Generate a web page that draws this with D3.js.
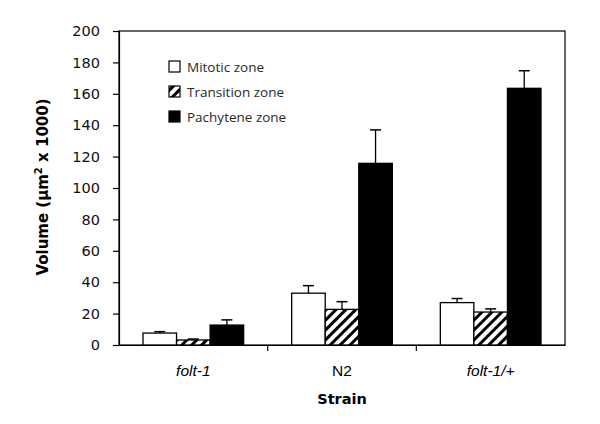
<!DOCTYPE html>
<html><head><meta charset="utf-8">
<script src="https://cdn.jsdelivr.net/npm/d3@7"></script>
<style>body{margin:0;background:#fff}</style>
</head><body><svg id="c" width="600" height="424"></svg>
<script>
const strains = ["folt-1", "N2", "folt-1/+"];
const italicStrain = [true, false, true];
const zones = ["Mitotic zone", "Transition zone", "Pachytene zone"];
const mitotic = [7.6, 33, 27];
const transition = [3.2, 22.7, 21];
const pachytene = [12.7, 115.7, 163.5];
const mitoticErr = [0.9, 4.8, 2.6];
const transitionErr = [0.6, 4.9, 2];
const pachyteneErr = [3.3, 21.3, 11.2];
const yTicks = [0,20,40,60,80,100,120,140,160,180,200];

const svg = d3.select("#c");
const L=119, R=565, T=31, B=345;
const x = d3.scaleBand().domain(strains).range([L,R]).paddingInner(0).paddingOuter(0);
const inner = d3.scaleBand().domain(zones).range([24, x.bandwidth()-24]).padding(0);
const y = d3.scaleLinear().domain([0,200]).range([B,T]);

const defs = svg.append("defs");
const pat = defs.append("pattern").attr("id","hatch").attr("patternUnits","userSpaceOnUse")
  .attr("width",7).attr("height",7).attr("patternTransform","rotate(45)");
pat.append("rect").attr("width",7).attr("height",7).attr("fill","#fff");
pat.append("rect").attr("x",0).attr("y",0).attr("width",3).attr("height",7).attr("fill","#000");

const fills = {"Mitotic zone":"#fff","Transition zone":"url(#hatch)","Pachytene zone":"#000"};
const series = [mitotic, transition, pachytene];
const errs = [mitoticErr, transitionErr, pachyteneErr];

// frame
svg.append("rect").attr("x",L).attr("y",T).attr("width",R-L).attr("height",B-T)
  .attr("fill","none").attr("stroke","#000").attr("stroke-width",1.2);

// bars
zones.forEach((z,zi)=>{
  strains.forEach((s,si)=>{
    const v = series[zi][si], e = errs[zi][si];
    const bx = x(s)+inner(z), bw = inner.bandwidth();
    const cx = bx + bw/2;
    svg.append("line").attr("x1",cx).attr("x2",cx).attr("y1",y(v)).attr("y2",y(v+e))
      .attr("stroke","#000").attr("stroke-width",1.3);
    svg.append("line").attr("x1",cx-5.5).attr("x2",cx+5.5).attr("y1",y(v+e)).attr("y2",y(v+e))
      .attr("stroke","#000").attr("stroke-width",1.5);
    svg.append("rect").attr("x",bx).attr("y",y(v)).attr("width",bw).attr("height",B-y(v))
      .attr("fill",fills[z]).attr("stroke","#000").attr("stroke-width",1.3);
  });
});

// y axis
const ya = svg.append("g").attr("transform",`translate(${L},0)`)
  .call(d3.axisLeft(y).tickValues(yTicks).tickSize(6).tickPadding(13));
ya.select(".domain").attr("stroke","#000").attr("stroke-width",1.2);
ya.selectAll(".tick line").attr("stroke","#000").attr("stroke-width",1.2);
ya.selectAll("text").attr("font-family","DejaVu Sans, Verdana, sans-serif").attr("font-size",14.5).attr("fill","#111");

// x axis
const xa = svg.append("g").attr("transform",`translate(0,${B})`)
  .call(d3.axisBottom(x).tickValues([]).tickSize(0));
xa.select(".domain").attr("stroke","#000").attr("stroke-width",1.2);
const bounds = [x(strains[1]), x(strains[2])];
bounds.forEach(b=>svg.append("line").attr("x1",b).attr("x2",b).attr("y1",B).attr("y2",B+6).attr("stroke","#000").attr("stroke-width",1.2));

strains.forEach((s,i)=>{
  svg.append("text").attr("x",x(s)+x.bandwidth()/2).attr("y",376).attr("text-anchor","middle")
    .attr("font-family","Liberation Sans, Arial, sans-serif").attr("font-size",15.5)
    .attr("font-style",italicStrain[i]?"italic":"normal").text(s);
});

svg.append("text").attr("x",342).attr("y",404).attr("text-anchor","middle")
  .attr("font-family","DejaVu Sans, Verdana, sans-serif").attr("font-weight","bold").attr("font-size",14.5).text("Strain");

const yt = svg.append("text").attr("transform","translate(48,187) rotate(-90)").attr("text-anchor","middle")
  .attr("font-family","DejaVu Sans, Verdana, sans-serif").attr("font-weight","bold").attr("font-size",15);
yt.append("tspan").text("Volume (µm");
yt.append("tspan").attr("font-size",10).attr("dy",-6).text("2");
yt.append("tspan").attr("dy",6).text(" x 1000)");

// legend
zones.forEach((z,i)=>{
  const ly = 61 + i*25;
  svg.append("rect").attr("x",169).attr("y",ly).attr("width",11).attr("height",11)
    .attr("fill",fills[z]).attr("stroke","#000").attr("stroke-width",1.2);
  svg.append("text").attr("x",187).attr("y",ly+11).attr("font-family","Open Sans, sans-serif")
    .attr("font-size",13.5).attr("fill","#2a2a2a").text(z);
});
</script></body></html>
